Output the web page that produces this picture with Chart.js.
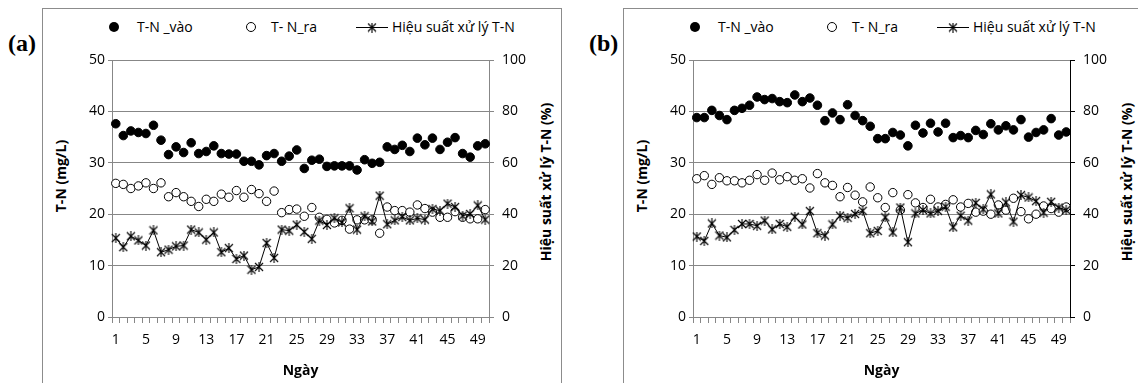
<!DOCTYPE html>
<html>
<head>
<meta charset="utf-8">
<script src="https://cdn.jsdelivr.net/npm/chart.js@4.4.0/dist/chart.umd.min.js"></script>
<style>
  body { margin:0; background:#fff; width:1138px; height:383px; overflow:hidden; position:relative; font-family:'Open Sans', sans-serif; color:#000; }
  .frame { position:absolute; top:8px; width:518px; height:400px; border:1px solid #8c8c8c; }
  .frame canvas { position:absolute; left:0; top:0; }
  .tag { position:absolute; top:29px; font-family:'Liberation Serif', serif; font-weight:bold; font-size:24px; line-height:28px; }
  .leg { position:absolute; top:18px; font-size:14px; line-height:18px; white-space:nowrap; }
  .dot { position:absolute; width:10px; height:10px; border-radius:50%; background:#000; }
  .ring { position:absolute; width:8px; height:8px; border-radius:50%; border:1px solid #000; background:#fff; }
  .ytitle { position:absolute; font-weight:bold; font-size:14px; line-height:18px; white-space:nowrap; transform:translate(-50%,-50%) rotate(-90deg); }
</style>
</head>
<body>
<script>
// ngay 1..50
var days = ['1','2','3','4','5','6','7','8','9','10','11','12','13','14','15','16','17','18','19','20',
  '21','22','23','24','25','26','27','28','29','30','31','32','33','34','35','36','37','38','39','40',
  '41','42','43','44','45','46','47','48','49','50'];

var seriesNames = ['T-N _vào', 'T- N_ra', 'Hiệu suất xử lý T-N'];

// (a)
var tnVaoA = [37.6,35.3,36.2,35.9,35.7,37.3,34.4,31.6,33.1,32.0,33.9,31.8,32.2,33.3,31.8,31.7,31.7,30.3,30.3,29.6,
  31.4,31.8,30.3,31.3,32.5,28.9,30.5,30.7,29.3,29.4,29.4,29.4,28.6,30.6,29.9,30.1,33.1,32.6,33.4,32.2,
  34.8,33.5,34.8,32.6,34.0,34.9,31.8,31.1,33.3,33.7];
var tnRaA = [26.0,25.8,25.0,25.5,26.1,25.0,26.1,23.4,24.2,23.4,22.5,21.5,22.9,22.5,23.9,23.3,24.6,23.3,24.8,24.0,
  22.5,24.5,20.3,20.9,21.0,19.6,21.3,19.4,19.0,18.3,18.8,17.1,18.9,18.9,18.9,16.3,21.4,20.7,20.7,20.4,
  21.8,21.1,20.4,19.4,19.4,20.5,19.4,19.1,19.1,20.9];
var hieuSuatA = [30.7,27.2,31.4,29.8,27.8,33.7,25.2,26.2,27.5,27.8,34.0,32.9,30.1,32.9,25.2,26.8,22.6,23.9,18.4,19.5,
  28.8,23.0,34.0,33.6,35.9,33.1,30.4,37.5,35.8,38.4,36.8,42.3,34.0,39.2,37.2,47.2,36.1,37.6,38.9,37.6,
  38.4,37.9,42.0,41.4,44.1,42.8,39.4,40.1,43.4,37.9];

// (b)
var tnVaoB = [38.8,38.8,40.2,39.2,38.4,40.2,40.6,41.2,42.8,42.3,42.5,41.9,41.7,43.2,41.9,42.6,41.2,38.2,39.7,38.4,
  41.3,39.2,38.2,37.1,34.7,34.7,35.9,35.4,33.3,37.3,35.8,37.7,36.0,37.7,34.9,35.3,34.9,36.3,35.5,37.6,
  36.4,37.2,36.4,38.4,35.0,35.9,36.4,38.6,35.4,36.0];
var tnRaB = [26.9,27.5,25.8,27.1,26.5,26.5,26.1,26.6,27.7,26.6,28.0,26.7,27.3,26.6,26.9,25.1,27.9,26.1,25.6,23.4,
  25.2,23.7,22.4,25.3,23.2,21.3,24.2,20.8,23.8,22.2,21.3,22.9,21.4,21.9,22.8,21.4,22.1,20.4,20.6,20.0,
  21.8,20.8,23.1,20.5,19.1,20.0,21.6,21.1,20.4,21.4];
var hieuSuatB = [31.3,29.6,36.4,31.7,31.0,33.9,36.2,36.2,35.5,37.5,34.1,36.2,35.1,39.0,36.0,41.2,32.6,31.7,36.0,39.4,
  38.6,40.1,41.3,32.6,33.5,38.8,32.9,42.6,29.1,40.3,41.6,40.3,41.3,42.9,34.9,39.4,37.5,44.4,41.9,47.7,
  40.3,44.6,37.1,47.4,46.5,45.1,40.6,44.8,42.6,41.6];

var tickFont = { family: 'Open Sans', size: 14 };
var gridColor = '#878787';

function starMarker(size) {
  var c = document.createElement('canvas');
  c.width = size; c.height = size;
  var g = c.getContext('2d');
  g.strokeStyle = '#000';
  g.lineWidth = 1.1;
  g.beginPath();
  g.moveTo(1, 1); g.lineTo(size - 1, size - 1);
  g.moveTo(size - 1, 1); g.lineTo(1, size - 1);
  g.moveTo(size / 2, 0); g.lineTo(size / 2, size);
  g.stroke();
  return c;
}

function addEl(cls, left, top, text) {
  var d = document.createElement('div');
  d.className = cls;
  d.style.left = left + 'px';
  if (top !== null) d.style.top = top + 'px';
  if (text) d.textContent = text;
  document.body.appendChild(d);
  return d;
}

function make_panel(ox, tag, vao, ra, hs, rightAxisColor) {
  addEl('tag', 8 + ox, null, tag);

  // legend
  addEl('dot', 109 + ox, 22);
  addEl('leg', 137 + ox, null, seriesNames[0]);
  addEl('ring', 246 + ox, 22);
  addEl('leg', 271 + ox, null, seriesNames[1]);
  var lc = document.createElement('canvas');
  lc.width = 32; lc.height = 12;
  lc.style.position = 'absolute';
  lc.style.left = (356 + ox) + 'px';
  lc.style.top = '21px';
  var g = lc.getContext('2d');
  g.strokeStyle = '#000'; g.lineWidth = 1;
  g.beginPath(); g.moveTo(0, 6.5); g.lineTo(32, 6.5); g.stroke();
  g.drawImage(starMarker(10), 11, 1.5);
  document.body.appendChild(lc);
  addEl('leg', 392 + ox, null, seriesNames[2]);

  addEl('ytitle', 61 + ox, 176, 'T-N (mg/L)');
  addEl('ytitle', 546 + ox, 182, 'Hiệu suất xử lý T-N (%)');

  var frame = addEl('frame', 42 + ox, 8);
  var cv = document.createElement('canvas');
  cv.width = 518; cv.height = 374;
  frame.appendChild(cv);

  new Chart(cv, {
    type: 'line',
    data: {
      labels: days,
      datasets: [
        { label: seriesNames[0], data: vao, yAxisID: 'y', showLine: false, order: 2,
          pointStyle: 'circle', pointRadius: 4.3, pointBackgroundColor: '#000', pointBorderColor: '#000', pointBorderWidth: 1 },
        { label: seriesNames[1], data: ra, yAxisID: 'y', showLine: false, order: 1,
          pointStyle: 'circle', pointRadius: 4.2, pointBackgroundColor: '#fff', pointBorderColor: '#000', pointBorderWidth: 1 },
        { label: seriesNames[2], data: hs, yAxisID: 'y1', order: 0, borderColor: '#000', borderWidth: 1, tension: 0,
          pointStyle: starMarker(10), pointRadius: 5 }
      ]
    },
    options: {
      responsive: false,
      animation: false,
      layout: { padding: { top: 51, left: 0, right: 0, bottom: 0 } },
      plugins: { legend: { display: false }, tooltip: { enabled: false } },
      scales: {
        x: {
          type: 'category',
          offset: true,
          grid: { display: true, drawOnChartArea: false, drawTicks: true, tickLength: 6, color: gridColor, offset: true },
          border: { color: gridColor },
          ticks: {
            autoSkip: false, maxRotation: 0, padding: 9, color: '#000', font: tickFont,
            callback: function (v, i) { return i % 4 === 0 ? days[i] : ''; }
          },
          title: { display: true, text: 'Ngày', color: '#000', font: { family: 'Open Sans', size: 14, weight: 'bold' }, padding: { top: 0, bottom: 4 } },
          afterFit: function (s) { s.height = 66; }
        },
        y: {
          position: 'left', min: 0, max: 50,
          ticks: { stepSize: 10, padding: 3, color: '#000', font: tickFont },
          grid: { color: gridColor, tickLength: 4 },
          border: { color: gridColor },
          afterFit: function (s) { s.width = 69; }
        },
        y1: {
          position: 'right', min: 0, max: 100,
          ticks: { stepSize: 20, padding: 8, color: '#000', font: tickFont },
          grid: { drawOnChartArea: false, tickLength: 5, color: rightAxisColor },
          border: { color: rightAxisColor },
          afterFit: function (s) { s.width = 72; }
        }
      }
    }
  });
}

make_panel(0, '(a)', tnVaoA, tnRaA, hieuSuatA, gridColor);
make_panel(581, '(b)', tnVaoB, tnRaB, hieuSuatB, '#000');
</script>
</body>
</html>
